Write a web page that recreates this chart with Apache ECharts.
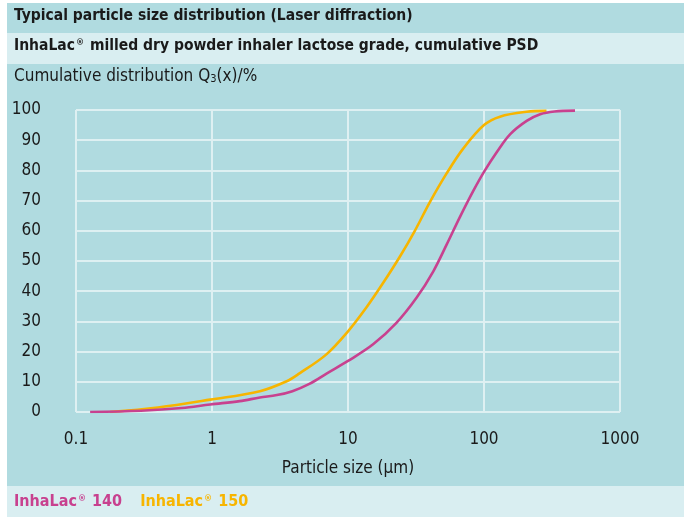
<!DOCTYPE html>
<html>
<head>
<meta charset="utf-8">
<script src="https://cdn.jsdelivr.net/npm/echarts@6/dist/echarts.min.js"></script>
<style>
  html, body { margin: 0; padding: 0; background: #ffffff; }
  #chart { width: 684px; height: 517px; }
</style>
</head>
<body>
<div id="chart"></div>
<script>
// particle size (µm) and cumulative Q3 (%)
var sizes140 = [0.127, 0.3, 0.6, 0.97, 1.6, 2.25, 3.0, 3.9, 5.2, 7.0, 10, 15.3, 22.7, 31.9, 42.4, 53.1, 66.6, 83.4, 100, 124, 156, 206, 259, 330, 467];
var q140     = [0,     0.4, 1.3, 2.5,  3.6, 4.8,  5.6, 6.9, 9.3, 12.8, 16.9, 22.4, 29.5, 37.8, 46.6, 55.4, 64.6, 73.2, 79.5, 86, 92, 96.4, 98.6, 99.5, 99.8];
var sizes150 = [0.178, 0.4, 0.97, 2.25, 3.54, 4.4, 6.9, 10, 13.6, 18.1, 24.1, 31, 40, 53.1, 70.5, 100, 131, 206, 288];
var q150     = [0,     1.5, 4.1,  6.9,  10.2, 12.8, 19, 26.7, 34.5, 42.7, 51.5, 60.0, 69.5, 79.0, 87.3, 95, 97.8, 99.4, 99.7];
var xTicks = [0.1, 1, 10, 100, 1000];
var yTicks = [0, 10, 20, 30, 40, 50, 60, 70, 80, 90, 100];

var FONT = '"Liberation Sans Narrow", "DejaVu Sans Condensed", sans-serif';
var TEAL = '#b0dbe0';
var LIGHT = '#d9eef1';
var GRID = '#def0f2';
var MAGENTA = '#c8418f';
var YELLOW = '#f7b500';

function pairs(xs, ys) {
  return xs.map(function (x, i) { return [x, ys[i]]; });
}

var myChart = echarts.init(document.getElementById('chart'), null, { renderer: 'canvas' });

myChart.setOption({
  backgroundColor: '#ffffff',
  animation: false,
  graphic: [
    // background bands
    { type: 'rect', z: -10, shape: { x: 7, y: 3, width: 677, height: 30 }, style: { fill: TEAL } },
    { type: 'rect', z: -10, shape: { x: 7, y: 33, width: 677, height: 31 }, style: { fill: LIGHT } },
    { type: 'rect', z: -10, shape: { x: 7, y: 64, width: 677, height: 422 }, style: { fill: TEAL } },
    { type: 'rect', z: -10, shape: { x: 7, y: 486, width: 677, height: 31 }, style: { fill: LIGHT } },
    // header texts
    { type: 'text', left: 14, top: 8, style: {
        text: 'Typical particle size distribution (Laser diffraction)',
        font: 'bold 15.5px ' + FONT, fill: '#1a1a1a' } },
    { type: 'text', left: 14, top: 38, style: {
        text: '{t|InhaLac}{sup|®}{t| milled dry powder inhaler lactose grade, cumulative PSD}',
        rich: {
          t: { font: 'bold 15.5px ' + FONT, fill: '#1a1a1a' },
          sup: { font: 'bold 9px ' + FONT, fill: '#1a1a1a', verticalAlign: 'top', padding: [0, 1, 6, 1] }
        } } },
    { type: 'text', left: 14, top: 68, style: {
        text: '{t|Cumulative distribution Q}{sub|3}{t|(x)/%}',
        rich: {
          t: { font: '17px ' + FONT, fill: '#1a1a1a' },
          sub: { font: '11px ' + FONT, fill: '#1a1a1a', padding: [6, 0, 0, 0] }
        } } }
  ],
  legend: {
    left: 14,
    top: 494,
    padding: 0,
    itemGap: 18,
    itemWidth: 0,
    itemHeight: 0,
    icon: 'none',
    selectedMode: false,
    formatter: function (name) {
      return '{t|InhaLac}{sup|®}{t| ' + name.split(' ')[1] + '}';
    },
    textStyle: {
      padding: [0, 0, 0, -5],
      rich: {
        t: { fontFamily: FONT, fontSize: 16, fontWeight: 'bold' },
        sup: { fontFamily: FONT, fontSize: 9, fontWeight: 'bold', verticalAlign: 'top', padding: [0, 1, 6, 1] }
      }
    },
    data: [
      { name: 'InhaLac 140', textStyle: { color: MAGENTA, rich: { t: { color: MAGENTA }, sup: { color: MAGENTA } } } },
      { name: 'InhaLac 150', textStyle: { color: YELLOW, rich: { t: { color: YELLOW }, sup: { color: YELLOW } } } }
    ]
  },
  grid: {
    left: 76,
    right: 64,
    top: 110,
    bottom: 105
  },
  xAxis: {
    type: 'log',
    logBase: 10,
    min: xTicks[0],
    max: xTicks[xTicks.length - 1],
    name: 'Particle size (µm)',
    nameLocation: 'middle',
    nameGap: 48,
    nameTextStyle: { fontFamily: FONT, fontSize: 17, color: '#1a1a1a' },
    axisLine: { show: false },
    axisTick: { show: false },
    axisLabel: {
      margin: 19,
      fontFamily: FONT, fontSize: 17, color: '#1a1a1a',
      formatter: function (v) {
        var best = xTicks.reduce(function (a, b) { return Math.abs(Math.log10(b) - Math.log10(v)) < Math.abs(Math.log10(a) - Math.log10(v)) ? b : a; });
        return String(best);
      }
    },
    splitLine: { show: true, lineStyle: { color: GRID, width: 2 } }
  },
  yAxis: {
    type: 'value',
    min: yTicks[0],
    max: yTicks[yTicks.length - 1],
    interval: 10,
    axisLine: { show: false },
    axisTick: { show: false },
    axisLabel: { margin: 35, fontFamily: FONT, fontSize: 17, color: '#1a1a1a' },
    splitLine: { show: true, lineStyle: { color: GRID, width: 2 } }
  },
  series: [
    {
      name: 'InhaLac 150',
      type: 'line',
      smooth: 0.35,
      showSymbol: false,
      color: YELLOW,
      lineStyle: { width: 2.6, color: YELLOW },
      data: pairs(sizes150, q150)
    },
    {
      name: 'InhaLac 140',
      type: 'line',
      smooth: 0.35,
      showSymbol: false,
      color: MAGENTA,
      lineStyle: { width: 2.6, color: MAGENTA },
      data: pairs(sizes140, q140)
    }
  ]
});
</script>
</body>
</html>
